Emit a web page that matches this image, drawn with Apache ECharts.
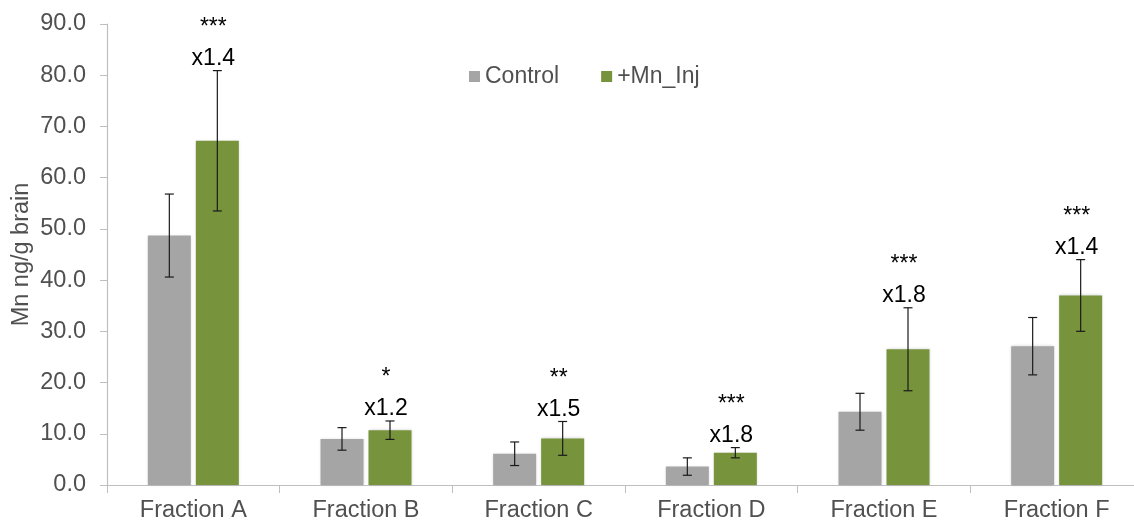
<!DOCTYPE html>
<html>
<head>
<meta charset="utf-8">
<style>
  html, body { margin: 0; padding: 0; background: #fff; }
  #chart { width: 1134px; height: 526px; }
</style>
<script src="https://cdn.jsdelivr.net/npm/echarts@6/dist/echarts.min.js"></script>
</head>
<body>
<div id="chart"></div>
<script>
// Mn content per brain fraction: mean and standard deviation for each group
const categories = ['Fraction A', 'Fraction B', 'Fraction C', 'Fraction D', 'Fraction E', 'Fraction F'];
const controlMean = [48.7, 9.0, 6.1, 3.6, 14.3, 27.1];
const controlSD   = [8.1, 2.2, 2.3, 1.7, 3.6, 5.6];
const mnMean      = [67.2, 10.7, 9.1, 6.3, 26.5, 37.0];
const mnSD        = [13.7, 1.8, 3.3, 1.0, 8.1, 7.0];
const foldLabels  = ['x1.4', 'x1.2', 'x1.5', 'x1.8', 'x1.8', 'x1.4'];
const sigStars    = ['***', '*', '**', '***', '***', '***'];
const yTicks      = [0, 10, 20, 30, 40, 50, 60, 70, 80, 90];

const FONT = '"Liberation Sans", Arial, sans-serif';
const LABEL_SIZE = 23.5;
const TEXT_COLOR = '#505050';
const BAR_W = 43;        // bar width in px
const BAR_GAP = 5;       // gap between the two bars of a group, px
const HALF_STEP = (BAR_W + BAR_GAP) / 2;
const CAP = 4.5;         // half-width of error bar caps

function errorSeries(means, sds, side, withNotes) {
  return {
    type: 'custom',
    z: 5,
    silent: true,
    data: means.map((m, i) => [i, m, sds[i]]),
    renderItem(params, api) {
      const i = api.value(0), m = api.value(1), s = api.value(2);
      const top = api.coord([i, m + s]);
      const bot = api.coord([i, m - s]);
      const x = top[0] + side * HALF_STEP;
      const st = { stroke: '#1a1a1a', lineWidth: 1.2 };
      const children = [
        { type: 'line', shape: { x1: x, y1: top[1], x2: x, y2: bot[1] }, style: st },
        { type: 'line', shape: { x1: x - CAP, y1: top[1], x2: x + CAP, y2: top[1] }, style: st },
        { type: 'line', shape: { x1: x - CAP, y1: bot[1], x2: x + CAP, y2: bot[1] }, style: st }
      ];
      if (withNotes) {
        const k = params.dataIndex;
        children.push({
          type: 'text',
          style: { x: x - 4, y: top[1] - 12, text: foldLabels[k], fill: '#000',
                   font: '23px ' + FONT, align: 'center', verticalAlign: 'middle' }
        });
        children.push({
          type: 'text',
          style: { x: x - 4, y: top[1] - 43, text: sigStars[k], fill: '#000',
                   font: '23px ' + FONT, align: 'center', verticalAlign: 'middle' }
        });
      }
      return { type: 'group', children };
    }
  };
}

const chart = echarts.init(document.getElementById('chart'), null, { renderer: 'canvas' });
chart.setOption({
  animation: false,
  backgroundColor: '#fff',
  textStyle: { fontFamily: FONT },
  // the plot runs a little past the right edge of the canvas
  grid: { left: 107, width: 1036, top: 24, height: 461, outerBoundsMode: 'none', containLabel: false },
  legend: {
    data: ['Control', '+Mn_Inj'],
    left: 469,
    top: 65,
    padding: 0,
    icon: 'rect',
    itemWidth: 11,
    itemHeight: 11,
    itemGap: 42,
    textStyle: { fontSize: 23, color: TEXT_COLOR, fontFamily: FONT }
  },
  xAxis: {
    type: 'category',
    data: categories,
    axisLine: { lineStyle: { color: '#BFBFBF', width: 1.2 } },
    axisTick: { show: true, interval: 0, length: 8, lineStyle: { color: '#BFBFBF' } },
    axisLabel: { fontSize: LABEL_SIZE, color: TEXT_COLOR, margin: 14, interval: 0 }
  },
  yAxis: {
    type: 'value',
    min: yTicks[0],
    max: yTicks[yTicks.length - 1],
    interval: yTicks[1] - yTicks[0],
    name: 'Mn ng/g brain',
    nameLocation: 'middle',
    nameGap: 73,
    nameMoveOverlap: false,
    nameTextStyle: { fontSize: LABEL_SIZE, color: TEXT_COLOR },
    splitLine: { show: false },
    axisLine: { show: true, lineStyle: { color: '#BFBFBF', width: 1.2 } },
    axisTick: { show: true, length: 7, lineStyle: { color: '#BFBFBF' } },
    axisLabel: { fontSize: LABEL_SIZE, color: TEXT_COLOR, margin: 21, formatter: v => v.toFixed(1) }
  },
  series: [
    {
      name: 'Control',
      type: 'bar',
      data: controlMean,
      barWidth: BAR_W,
      barGap: (BAR_GAP / BAR_W * 100) + '%',
      itemStyle: { color: '#A5A5A5', shadowBlur: 3, shadowColor: 'rgba(0,0,0,0.18)' }
    },
    {
      name: '+Mn_Inj',
      type: 'bar',
      data: mnMean,
      barWidth: BAR_W,
      itemStyle: { color: '#77933C', shadowBlur: 3, shadowColor: 'rgba(0,0,0,0.18)' }
    },
    errorSeries(controlMean, controlSD, -1, false),
    errorSeries(mnMean, mnSD, 1, true)
  ]
});
</script>
</body>
</html>
